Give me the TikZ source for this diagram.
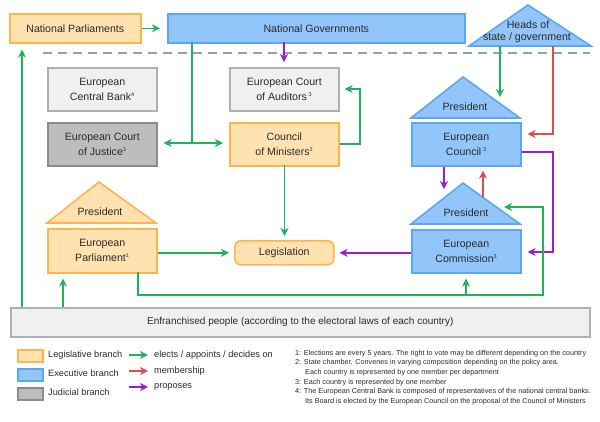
\documentclass[tikz,border=0pt]{standalone}
\usepackage{fontspec}
\setmainfont{Liberation Sans}
\usetikzlibrary{arrows.meta}
\definecolor{orfill}{HTML}{FFE2B0}
\definecolor{ordraw}{HTML}{FFB44C}
\definecolor{blfill}{HTML}{92C5F9}
\definecolor{bldraw}{HTML}{5AA8F5}
\definecolor{lgfill}{HTML}{F0F0F0}
\definecolor{lgdraw}{HTML}{B0B0B0}
\definecolor{dgfill}{HTML}{BDBDBD}
\definecolor{dgdraw}{HTML}{8C8C8C}
\definecolor{cgreen}{HTML}{1FB35A}
\definecolor{cred}{HTML}{E04B4B}
\definecolor{cpurple}{HTML}{9B1FD1}
\definecolor{txt}{HTML}{2A2A2A}
\newcommand{\sps}[1]{\textsuperscript{\fontsize{5.5}{5.5}\selectfont #1}}
\tikzset{
  base/.style={line width=1.6pt, inner sep=0pt, anchor=north west, align=center,
    text=txt, font=\fontsize{10.6}{15}\selectfont},
  legis/.style={base, fill=orfill, draw=ordraw},
  exec/.style={base, fill=blfill, draw=bldraw},
  other/.style={base, fill=lgfill, draw=lgdraw},
  judic/.style={base, fill=dgfill, draw=dgdraw},
  tri/.style={line width=1.6pt, line join=miter},
  lbl/.style={text=txt, font=\fontsize{10.6}{15}\selectfont, inner sep=0pt},
  conn/.style={line width=1.6pt, -{Stealth[length=8pt,width=8pt,inset=2.5pt]}},
  gconn/.style={conn, draw=cgreen},
  rconn/.style={conn, draw=cred},
  pconn/.style={conn, draw=cpurple},
  legtxt/.style={text=txt, font=\fontsize{9.2}{11}\selectfont, inner sep=0pt, anchor=west},
  foot/.style={text=txt, font=\fontsize{7.25}{8}\selectfont, inner sep=0pt, anchor=west},
}
\begin{document}
\begin{tikzpicture}[x=1pt,y=-1pt]
\useasboundingbox (0,0) rectangle (600,421);
% top row
\node[legis, minimum width=131pt, minimum height=29pt] (np) at (9,13) {National Parliaments};
\node[exec, minimum width=297pt, minimum height=29pt] (ng) at (167,13) {National Governments};
\draw[tri, fill=blfill, draw=bldraw] (469,46) -- (528,5) -- (591,46) -- cycle;
\node[lbl] (heads1) at (528,25) {Heads of};
\node[lbl] (heads2) at (527,38) {state / government};
\coordinate (hA) at (500,46);
\coordinate (hB) at (553,46);
% dashed separator
\coordinate (dl) at (43,53);
\coordinate (dr) at (590,53);
\draw[line width=1.5pt, draw=lgdraw!90!black, dash pattern=on 9pt off 6pt] (dl) -- (dr);
% boxes
\node[other, minimum width=109pt, minimum height=43pt] (ecb) at (47,67) {European\\Central Bank\sps{4}};
\node[other, minimum width=109pt, minimum height=43pt] (aud) at (229,67) {European Court\\of Auditors\,\sps{3}};
\node[judic, minimum width=109pt, minimum height=43pt] (coj) at (47,122) {European Court\\of Justice\sps{3}};
\node[legis, minimum width=109pt, minimum height=43pt] (com) at (229,122) {Council\\of Ministers\sps{2}};
% European Council
\draw[tri, fill=blfill, draw=bldraw] (411,118) -- (463,77) -- (520,118) -- cycle;
\node[lbl] (ecpres) at (465,107) {President};
\node[exec, minimum width=109pt, minimum height=43pt] (ec) at (411,122) {European\\Council\,\sps{3}};
\coordinate (ecpt) at (500,105);
% European Parliament
\draw[tri, fill=orfill, draw=ordraw] (47,223) -- (99,182) -- (156,223) -- cycle;
\node[lbl] (eppres) at (100,212) {President};
\node[legis, minimum width=109pt, minimum height=44pt] (ep) at (47,228) {European\\Parliament\sps{1}};
% Legislation
\node[legis, rounded corners=6pt, minimum width=99pt, minimum height=24pt] (leg) at (234,240) {Legislation};
% Commission
\draw[tri, fill=blfill, draw=bldraw] (411,224) -- (463,183) -- (520,224) -- cycle;
\node[lbl] (cpres) at (466,213) {President};
\node[exec, minimum width=109pt, minimum height=43pt] (comm) at (411,229) {European\\Commission\sps{3}};
\coordinate (cpR) at (483,197);
\coordinate (cpP) at (444,198);
\coordinate (cpE) at (496,207);
% people
\node[other, minimum width=579pt, minimum height=29pt, font=\fontsize{10}{12}\selectfont] (people) at (10,307) {Enfranchised people (according to the electoral laws of each country)};

% connectors
\draw[gconn, shorten >=7pt] (np.east) -- (ng.west);
\coordinate (ngP) at (284,42);
\draw[pconn, shorten >=5pt] (ngP) -- (ngP |- aud.north);
\coordinate (ngG) at (192,42);
\coordinate (j1) at (192,143);
\draw[line width=1.6pt, cgreen] (ngG) -- (j1);
\draw[gconn, shorten >=6pt] (j1) -- (coj.east |- j1);
\draw[gconn, shorten >=6pt] (j1) -- (com.west |- j1);
\coordinate (c1) at (360,144);
\coordinate (c2) at (360,89);
\draw[gconn, shorten >=5pt] (com.east |- c1) -- (c1) -- (c2) -- (aud.east |- c2);
\coordinate (cm1) at (284.5,165);
\draw[gconn, shorten >=4pt] (cm1) -- (leg.north -| cm1);
\draw[gconn, shorten >=8pt] (hA) -- (ecpt);
\coordinate (r1) at (553,134);
\draw[rconn, shorten >=6pt] (hB) -- (r1) -- (ec.east |- r1);
\draw[pconn, shorten >=9pt] (ec.south -| cpP) -- (cpP);
\draw[rconn, shorten >=4pt] (cpR) -- (ec.south -| cpR);
\coordinate (p1) at (553,152);
\coordinate (p2) at (553,252);
\draw[pconn, shorten >=6pt] (ec.east |- p1) -- (p1) -- (p2) -- (comm.east |- p2);
\coordinate (g0) at (138,272);
\coordinate (g1) at (138,295);
\coordinate (g2) at (543,295);
\coordinate (g3) at (543,207);
\draw[gconn, shorten >=8pt] (g0) -- (g1) -- (g2) -- (g3) -- (cpE);
\coordinate (g4) at (466,295);
\draw[gconn, shorten >=5pt] (g4) -- (comm.south -| g4);
\draw[gconn, shorten >=5pt] (ep.east |- leg.west) -- (leg.west);
\draw[pconn, shorten >=5pt] (comm.west |- leg.east) -- (leg.east);
\coordinate (v1) at (22,307);
\draw[gconn, shorten >=6pt] (v1) -- (np.south -| v1);
\coordinate (v2) at (63,307);
\draw[gconn, shorten >=5pt] (v2) -- (ep.south -| v2);

% legend
\node[legis, minimum width=25pt, minimum height=12pt] (lg1) at (17,349) {};
\node[exec, minimum width=25pt, minimum height=12pt] (lg2) at (17,368) {};
\node[judic, minimum width=25pt, minimum height=12pt] (lg3) at (17,387) {};
\node[legtxt] (lt1) at (48,355) {Legislative branch};
\node[legtxt] (lt2) at (48,373) {Executive branch};
\node[legtxt] (lt3) at (48,392) {Judicial branch};
\coordinate (la1) at (129,355); \coordinate (lb1) at (148,355);
\coordinate (la2) at (129,371); \coordinate (lb2) at (148,371);
\coordinate (la3) at (129,387); \coordinate (lb3) at (148,387);
\draw[gconn] (la1) -- (lb1);
\draw[rconn] (la2) -- (lb2);
\draw[pconn] (la3) -- (lb3);
\node[legtxt] (lk1) at (154,355) {elects / appoints / decides on};
\node[legtxt] (lk2) at (154,371) {membership};
\node[legtxt] (lk3) at (154,387) {proposes};
% footnotes
\node[foot] (f1) at (295,354) {1: Elections are every 5 years. The right to vote may be different depending on the country};
\node[foot] (f2) at (295,363) {2: State chamber. Convenes in varying composition depending on the policy area.};
\node[foot] (f2b) at (305,373) {Each country is represented by one member per department};
\node[foot] (f3) at (295,383) {3: Each country is represented by one member};
\node[foot] (f4) at (295,392) {4: The European Central Bank is composed of representatives of the national central banks.};
\node[foot] (f4b) at (305,402) {Its Board is elected by the European Council on the proposal of the Council of Ministers};
\end{tikzpicture}
\end{document}
